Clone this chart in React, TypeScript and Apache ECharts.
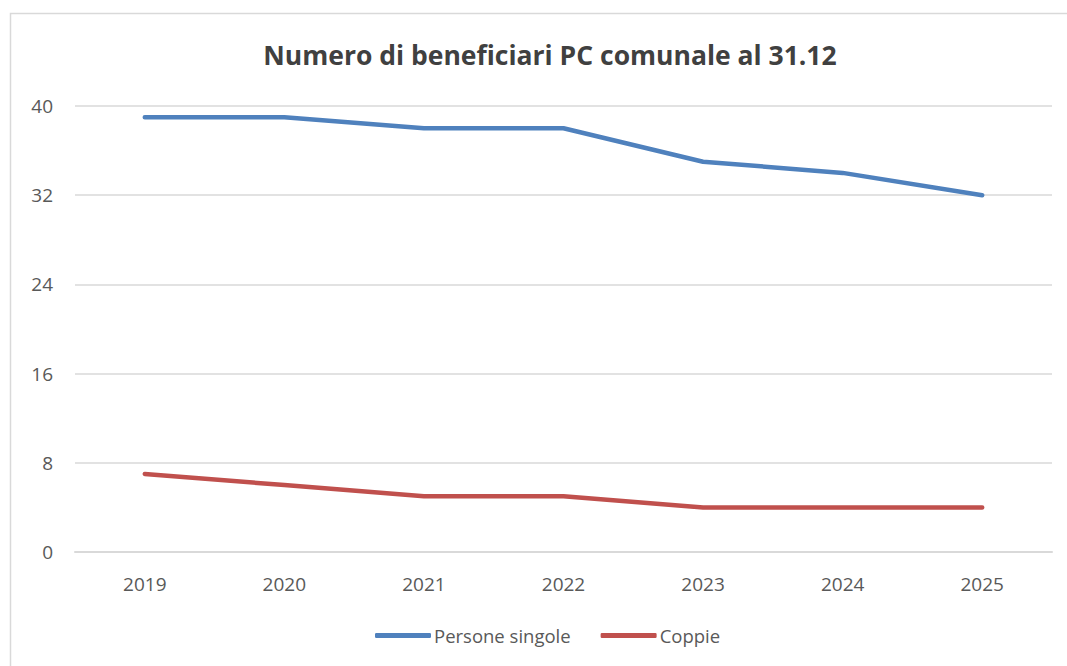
import React, { useEffect, useRef } from "react";
import * as echarts from "echarts";

const years = ["2019", "2020", "2021", "2022", "2023", "2024", "2025"];
const personeSingole = [39, 39, 38, 38, 35, 34, 32];
const coppie = [7, 6, 5, 5, 4, 4, 4];
const titleText = "Numero di beneficiari PC comunale al 31.12";

export default function App() {
  const ref = useRef<HTMLDivElement>(null);
  useEffect(() => {
    if (!ref.current) return;
    const chart = echarts.init(ref.current, null, { renderer: "svg" });
    const font = "'Open Sans', sans-serif";
    chart.setOption({
      animation: false,
      backgroundColor: "#ffffff",
      textStyle: { fontFamily: font },
      graphic: [
        {
          type: "rect",
          shape: { x: 10.5, y: 13.5, width: 1100, height: 700 },
          style: { fill: "none", stroke: "#d9d9d9", lineWidth: 1.5 },
          silent: true,
        },
      ],
      title: {
        text: titleText,
        left: 545,
        textAlign: "center",
        top: 36,
        textStyle: { fontFamily: font, fontSize: 26.5, fontWeight: "bold", color: "#404040" },
      },
      legend: {
        bottom: 16,
        left: 370,
        itemWidth: 56,
        itemHeight: 5,
        itemGap: 30,
        icon: "roundRect",
        textStyle: { fontFamily: font, fontSize: 18.5, color: "#595959", padding: [0, 0, 0, -2] },
        data: ["Persone singole", "Coppie"],
      },
      grid: { left: 75, right: 15, top: 106, bottom: 114, containLabel: false },
      xAxis: {
        type: "category",
        data: years,
        boundaryGap: true,
        axisLine: { show: true, lineStyle: { color: "#d9d9d9", width: 2 } },
        axisTick: { show: false },
        axisLabel: { fontFamily: font, fontSize: 19, color: "#595959", margin: 22 },
      },
      yAxis: {
        type: "value",
        min: 0,
        max: 40,
        interval: 8,
        axisLine: { show: false },
        axisTick: { show: false },
        axisLabel: { fontFamily: font, fontSize: 19, color: "#595959", margin: 22 },
        splitLine: { lineStyle: { color: "#d9d9d9", width: 1.5 } },
      },
      series: [
        {
          name: "Persone singole",
          type: "line",
          data: personeSingole,
          symbol: "none",
          lineStyle: { color: "#4f81bd", width: 4.5, cap: "round" },
          itemStyle: { color: "#4f81bd" },
        },
        {
          name: "Coppie",
          type: "line",
          data: coppie,
          symbol: "none",
          lineStyle: { color: "#c0504d", width: 4.5, cap: "round" },
          itemStyle: { color: "#c0504d" },
        },
      ],
    });
    return () => chart.dispose();
  }, []);
  return (
    <div
      ref={ref}
      style={{ position: "fixed", left: 0, top: 0, width: 1067, height: 666 }}
    />
  );
}
